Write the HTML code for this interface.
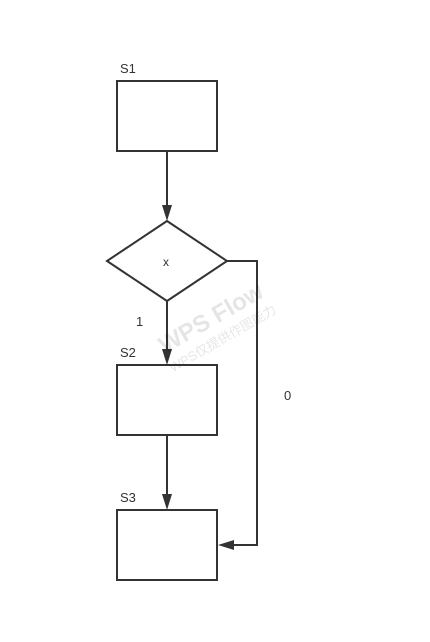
<!DOCTYPE html>
<html><head><meta charset="utf-8"><style>
html,body{margin:0;padding:0;background:#fff;}
svg{display:block;}
text{font-family:"Liberation Sans","Noto Sans CJK SC",sans-serif;}
</style></head><body>
<svg width="430" height="642" viewBox="0 0 430 642" xmlns="http://www.w3.org/2000/svg">
<g fill="none" stroke="#333" stroke-width="2">
<rect x="117" y="81" width="100" height="70"/>
<polygon points="107,261 167,221 227,261 167,301"/>
<rect x="117" y="365" width="100" height="70"/>
<rect x="117" y="510" width="100" height="70"/>
<line x1="167" y1="151" x2="167" y2="210"/>
<line x1="167" y1="301" x2="167" y2="354"/>
<line x1="167" y1="435" x2="167" y2="499"/>
<polyline points="227,261 257,261 257,545 230,545"/>
</g>
<g fill="#333">
<polygon points="162,205 172,205 167,221"/>
<polygon points="162,349 172,349 167,365"/>
<polygon points="162,494 172,494 167,510"/>
<polygon points="234,540 234,550 218,545"/>
</g>
<g fill="#333" font-size="13">
<text x="120" y="73">S1</text>
<text x="120" y="357">S2</text>
<text x="120" y="502">S3</text>
<text x="136" y="326">1</text>
<text x="284" y="400">0</text>
<text x="163" y="266" font-size="12">x</text>
</g>
<g transform="rotate(-30 215 325)" fill="#000" fill-opacity="0.1">
<text x="215" y="325" font-size="24" font-weight="bold" text-anchor="middle">WPS Flow</text>
<text x="215" y="345" font-size="13" text-anchor="middle">WPS仅提供作图能力</text>
</g>
</svg>
</body></html>
